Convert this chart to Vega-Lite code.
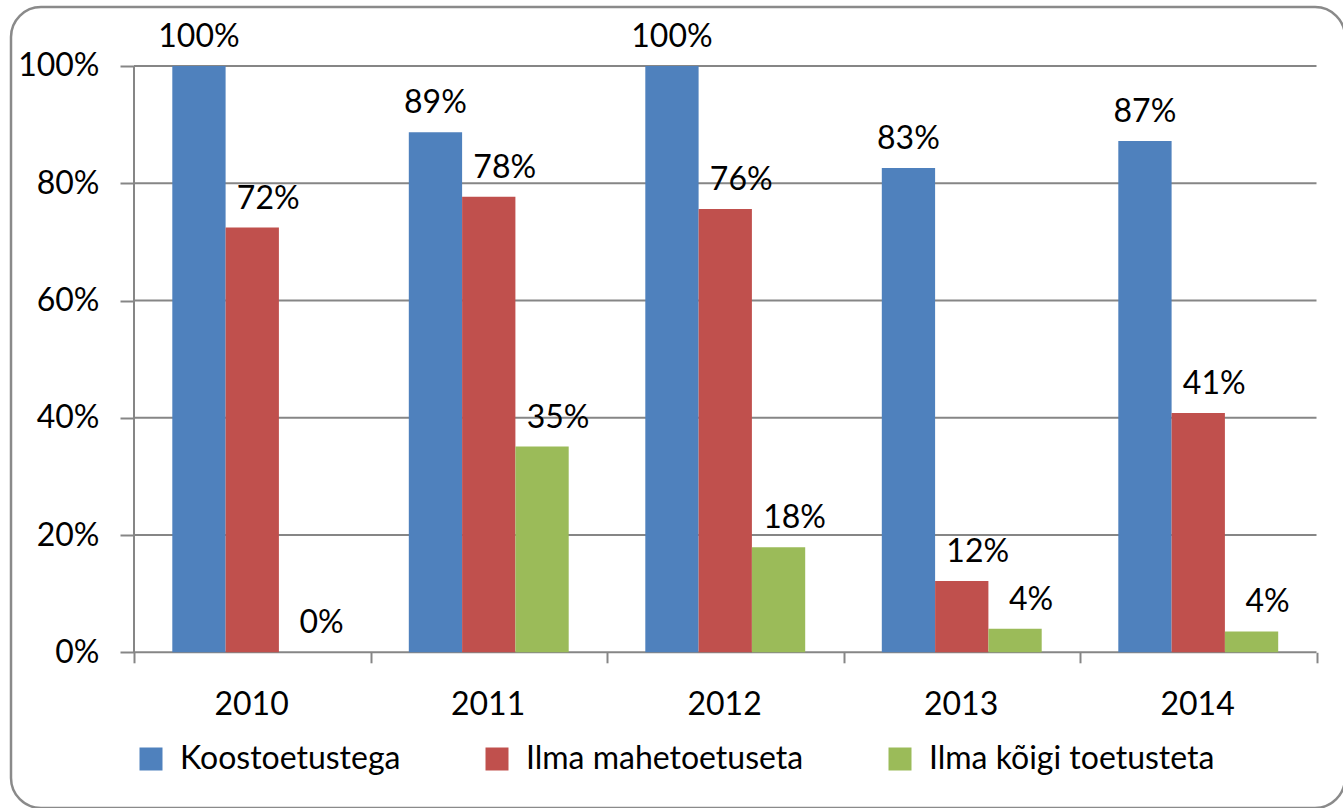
{
  "$schema": "https://vega.github.io/schema/vega-lite/v6.json",
  "width": 1334,
  "height": 801,
  "autosize": {"type": "none"},
  "padding": {"left": 11, "top": 7, "right": 0, "bottom": 0},
  "background": "white",
  "config": {
    "font": "Lato",
    "view": {"stroke": "#8a8a8a", "strokeWidth": 2.5, "cornerRadius": 30}
  },
  "datasets": {
    "bars": [
      {"year": "2010", "series": "Koostoetustega", "value": 1.0},
      {"year": "2010", "series": "Ilma mahetoetuseta", "value": 0.7245},
      {"year": "2010", "series": "Ilma kõigi toetusteta", "value": 0.0},
      {"year": "2011", "series": "Koostoetustega", "value": 0.887},
      {"year": "2011", "series": "Ilma mahetoetuseta", "value": 0.777},
      {"year": "2011", "series": "Ilma kõigi toetusteta", "value": 0.351},
      {"year": "2012", "series": "Koostoetustega", "value": 1.0},
      {"year": "2012", "series": "Ilma mahetoetuseta", "value": 0.756},
      {"year": "2012", "series": "Ilma kõigi toetusteta", "value": 0.179},
      {"year": "2013", "series": "Koostoetustega", "value": 0.826},
      {"year": "2013", "series": "Ilma mahetoetuseta", "value": 0.1214},
      {"year": "2013", "series": "Ilma kõigi toetusteta", "value": 0.040},
      {"year": "2014", "series": "Koostoetustega", "value": 0.872},
      {"year": "2014", "series": "Ilma mahetoetuseta", "value": 0.408},
      {"year": "2014", "series": "Ilma kõigi toetusteta", "value": 0.0355}
    ],
    "grid": [{"v": 0}, {"v": 0.2}, {"v": 0.4}, {"v": 0.6}, {"v": 0.8}, {"v": 1.0}]
  },
  "layer": [
    {
      "data": {"name": "grid"},
      "mark": {"type": "rule", "color": "#868686", "strokeWidth": 2},
      "encoding": {
        "y": {"field": "v", "type": "quantitative", "title": null, "scale": {"domain": [-0.26556, 1.10063], "zero": false, "nice": false}},
        "x": {"datum": "2010", "type": "nominal", "bandPosition": 0, "title": null, "scale": {"type": "band", "domain": ["2010", "2011", "2012", "2013", "2014"], "paddingInner": 0, "paddingOuter": 0.3203, "align": 0.8119}},
        "x2": {"datum": "2014", "bandPosition": 1}
      }
    },
    {
      "data": {"values": [{"a": 1}]},
      "mark": {"type": "rule", "color": "#868686", "strokeWidth": 2},
      "encoding": {
        "x": {"datum": "2010", "type": "nominal", "bandPosition": 0, "title": null},
        "y": {"datum": 0, "type": "quantitative", "title": null},
        "y2": {"datum": 1}
      }
    },
    {
      "data": {"name": "bars"},
      "mark": {"type": "bar"},
      "encoding": {
        "x": {
          "field": "year", "type": "nominal", "title": null,
          "scale": {"type": "band", "domain": ["2010", "2011", "2012", "2013", "2014"], "paddingInner": 0, "paddingOuter": 0.3203, "align": 0.8119},
          "axis": {"orient": "bottom", "offset": -155.7, "domain": false, "grid": false, "tickBand": "extent", "tickSize": 10.5, "tickColor": "#868686", "tickWidth": 2, "labelFontSize": 32, "labelColor": "black", "labelPadding": 42, "labelOffset": 36, "labelAngle": 0, "title": null}
        },
        "xOffset": {
          "field": "series", "type": "nominal",
          "sort": ["Koostoetustega", "Ilma mahetoetuseta", "Ilma kõigi toetusteta"],
          "scale": {"domain": ["Koostoetustega", "Ilma mahetoetuseta", "Ilma kõigi toetusteta"], "paddingInner": 0, "paddingOuter": 0.7186}
        },
        "y": {
          "field": "value", "type": "quantitative", "title": null,
          "scale": {"domain": [-0.26556, 1.10063], "zero": false, "nice": false},
          "axis": {"orient": "left", "offset": -123, "domain": false, "grid": false, "values": [0, 0.2, 0.4, 0.6, 0.8, 1.0], "format": ".0%", "tickSize": 14, "tickColor": "#868686", "tickWidth": 2, "labelFontSize": 32, "labelColor": "black", "labelPadding": 21, "title": null}
        },
        "y2": {"datum": 0},
        "color": {
          "field": "series", "type": "nominal",
          "scale": {"domain": ["Koostoetustega", "Ilma mahetoetuseta", "Ilma kõigi toetusteta"], "range": ["#4F81BD", "#C0504D", "#9BBB59"]},
          "legend": {"orient": "none", "legendX": 124, "legendY": 736, "direction": "horizontal", "title": null, "symbolType": "square", "symbolSize": 529, "symbolStrokeWidth": 0, "labelFontSize": 32, "labelColor": "black", "labelOffset": 13, "columnPadding": 80, "padding": 0, "labelLimit": 0}
        }
      }
    },
    {
      "data": {"name": "bars"},
      "transform": [{"filter": "datum.series === 'Koostoetustega'"}],
      "mark": {"type": "text", "dy": -19, "baseline": "alphabetic", "align": "center", "fontSize": 32, "color": "black"},
      "encoding": {
        "x": {"field": "year", "type": "nominal", "title": null},
        "xOffset": {"field": "series", "type": "nominal", "sort": ["Koostoetustega", "Ilma mahetoetuseta", "Ilma kõigi toetusteta"]},
        "y": {"field": "value", "type": "quantitative", "title": null},
        "text": {"field": "value", "type": "quantitative", "format": ".0%"}
      }
    },
    {
      "data": {"name": "bars"},
      "transform": [{"filter": "datum.series !== 'Koostoetustega'"}],
      "mark": {"type": "text", "dx": 16, "dy": -19, "baseline": "alphabetic", "align": "center", "fontSize": 32, "color": "black"},
      "encoding": {
        "x": {"field": "year", "type": "nominal", "title": null},
        "xOffset": {"field": "series", "type": "nominal", "sort": ["Koostoetustega", "Ilma mahetoetuseta", "Ilma kõigi toetusteta"]},
        "y": {"field": "value", "type": "quantitative", "title": null},
        "text": {"field": "value", "type": "quantitative", "format": ".0%"}
      }
    }
  ]
}
